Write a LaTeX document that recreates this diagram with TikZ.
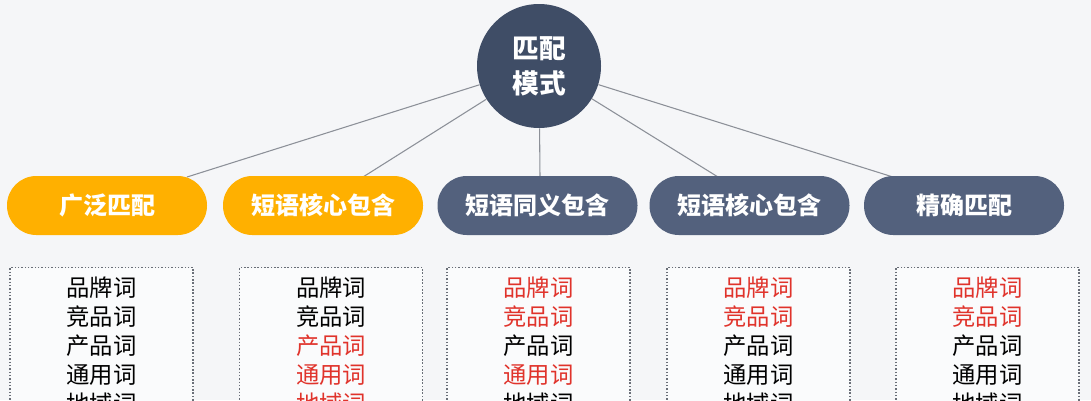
\documentclass[tikz,border=0pt]{standalone}
\usepackage{fontspec}
\setmainfont{Noto Sans CJK SC}
\definecolor{bg}{HTML}{F5F6F8}
\definecolor{navy}{HTML}{3F4D66}
\definecolor{pillnavy}{HTML}{53617D}
\definecolor{amber}{HTML}{FFB000}
\definecolor{redw}{HTML}{E0332B}
\definecolor{linegray}{HTML}{8C9098}
\definecolor{boxline}{HTML}{6A6F78}
\tikzset{
  conn/.style={draw=linegray, line width=0.8pt},
  pill/.style={rectangle, rounded corners=22pt, minimum width=150pt, minimum height=44.25pt,
    inner sep=0pt, text=white, font=\bfseries\fontsize{18}{22}\selectfont},
  orangepill/.style={pill, fill=amber},
  navypill/.style={pill, fill=pillnavy},
  wbox/.style={rectangle, draw=boxline, line width=0.8pt, dash pattern=on 1.1pt off 1.4pt,
    fill=white!55!bg, minimum width=137.25pt, minimum height=150pt, inner sep=0pt, anchor=north},
  word/.style={inner sep=0pt, font=\fontsize{17.5}{21}\selectfont}
}
\begin{document}
\begin{tikzpicture}[x=0.75pt,y=-0.75pt]
\fill[bg] (0,0) rectangle (1091,400);
\useasboundingbox (0,0) rectangle (1091,400);
\clip (0,0) rectangle (1091,400);

% centre circle
\node[circle, fill=navy, minimum size=93pt, inner sep=0pt, text=white, align=center,
      font=\bfseries\fontsize{20}{26}\selectfont] (c) at (539,66) {匹配\\模式};

% connector end points
\coordinate (p1) at (187,177);
\coordinate (p2) at (363,177);
\coordinate (p3) at (540,177);
\coordinate (p4) at (718,177);
\coordinate (p5) at (893,177);
\foreach \p in {p1,p2,p3,p4,p5} \draw[conn] (c) -- (\p);

% pills
\node[orangepill] (m1) at (107,205.5) {广泛匹配};
\node[orangepill] (m2) at (323,205.5) {短语核心包含};
\node[navypill] (m3) at (537.5,205.5) {短语同义包含};
\node[navypill] (m4) at (749.5,205.5) {短语核心包含};
\node[navypill] (m5) at (964,205.5) {精确匹配};

% word boxes
\foreach \bx/\n/\cA/\cB/\cC/\cD/\cE in {
   101.5/1/black/black/black/black/black,
   331/2/black/black/redw/redw/redw,
   538.5/3/redw/redw/black/redw/black,
   758.5/4/redw/redw/black/black/black,
   987.5/5/redw/redw/black/black/black}{
  \node[wbox] (b\n) at (\bx,267) {};
  \node[word, text=\cA] (w\n-1) at (\bx,288) {品牌词};
  \node[word, text=\cB] (w\n-2) at (\bx,317) {竞品词};
  \node[word, text=\cC] (w\n-3) at (\bx,346) {产品词};
  \node[word, text=\cD] (w\n-4) at (\bx,375) {通用词};
  \node[word, text=\cE] (w\n-5) at (\bx,404) {地域词};
}
\end{tikzpicture}
\end{document}
